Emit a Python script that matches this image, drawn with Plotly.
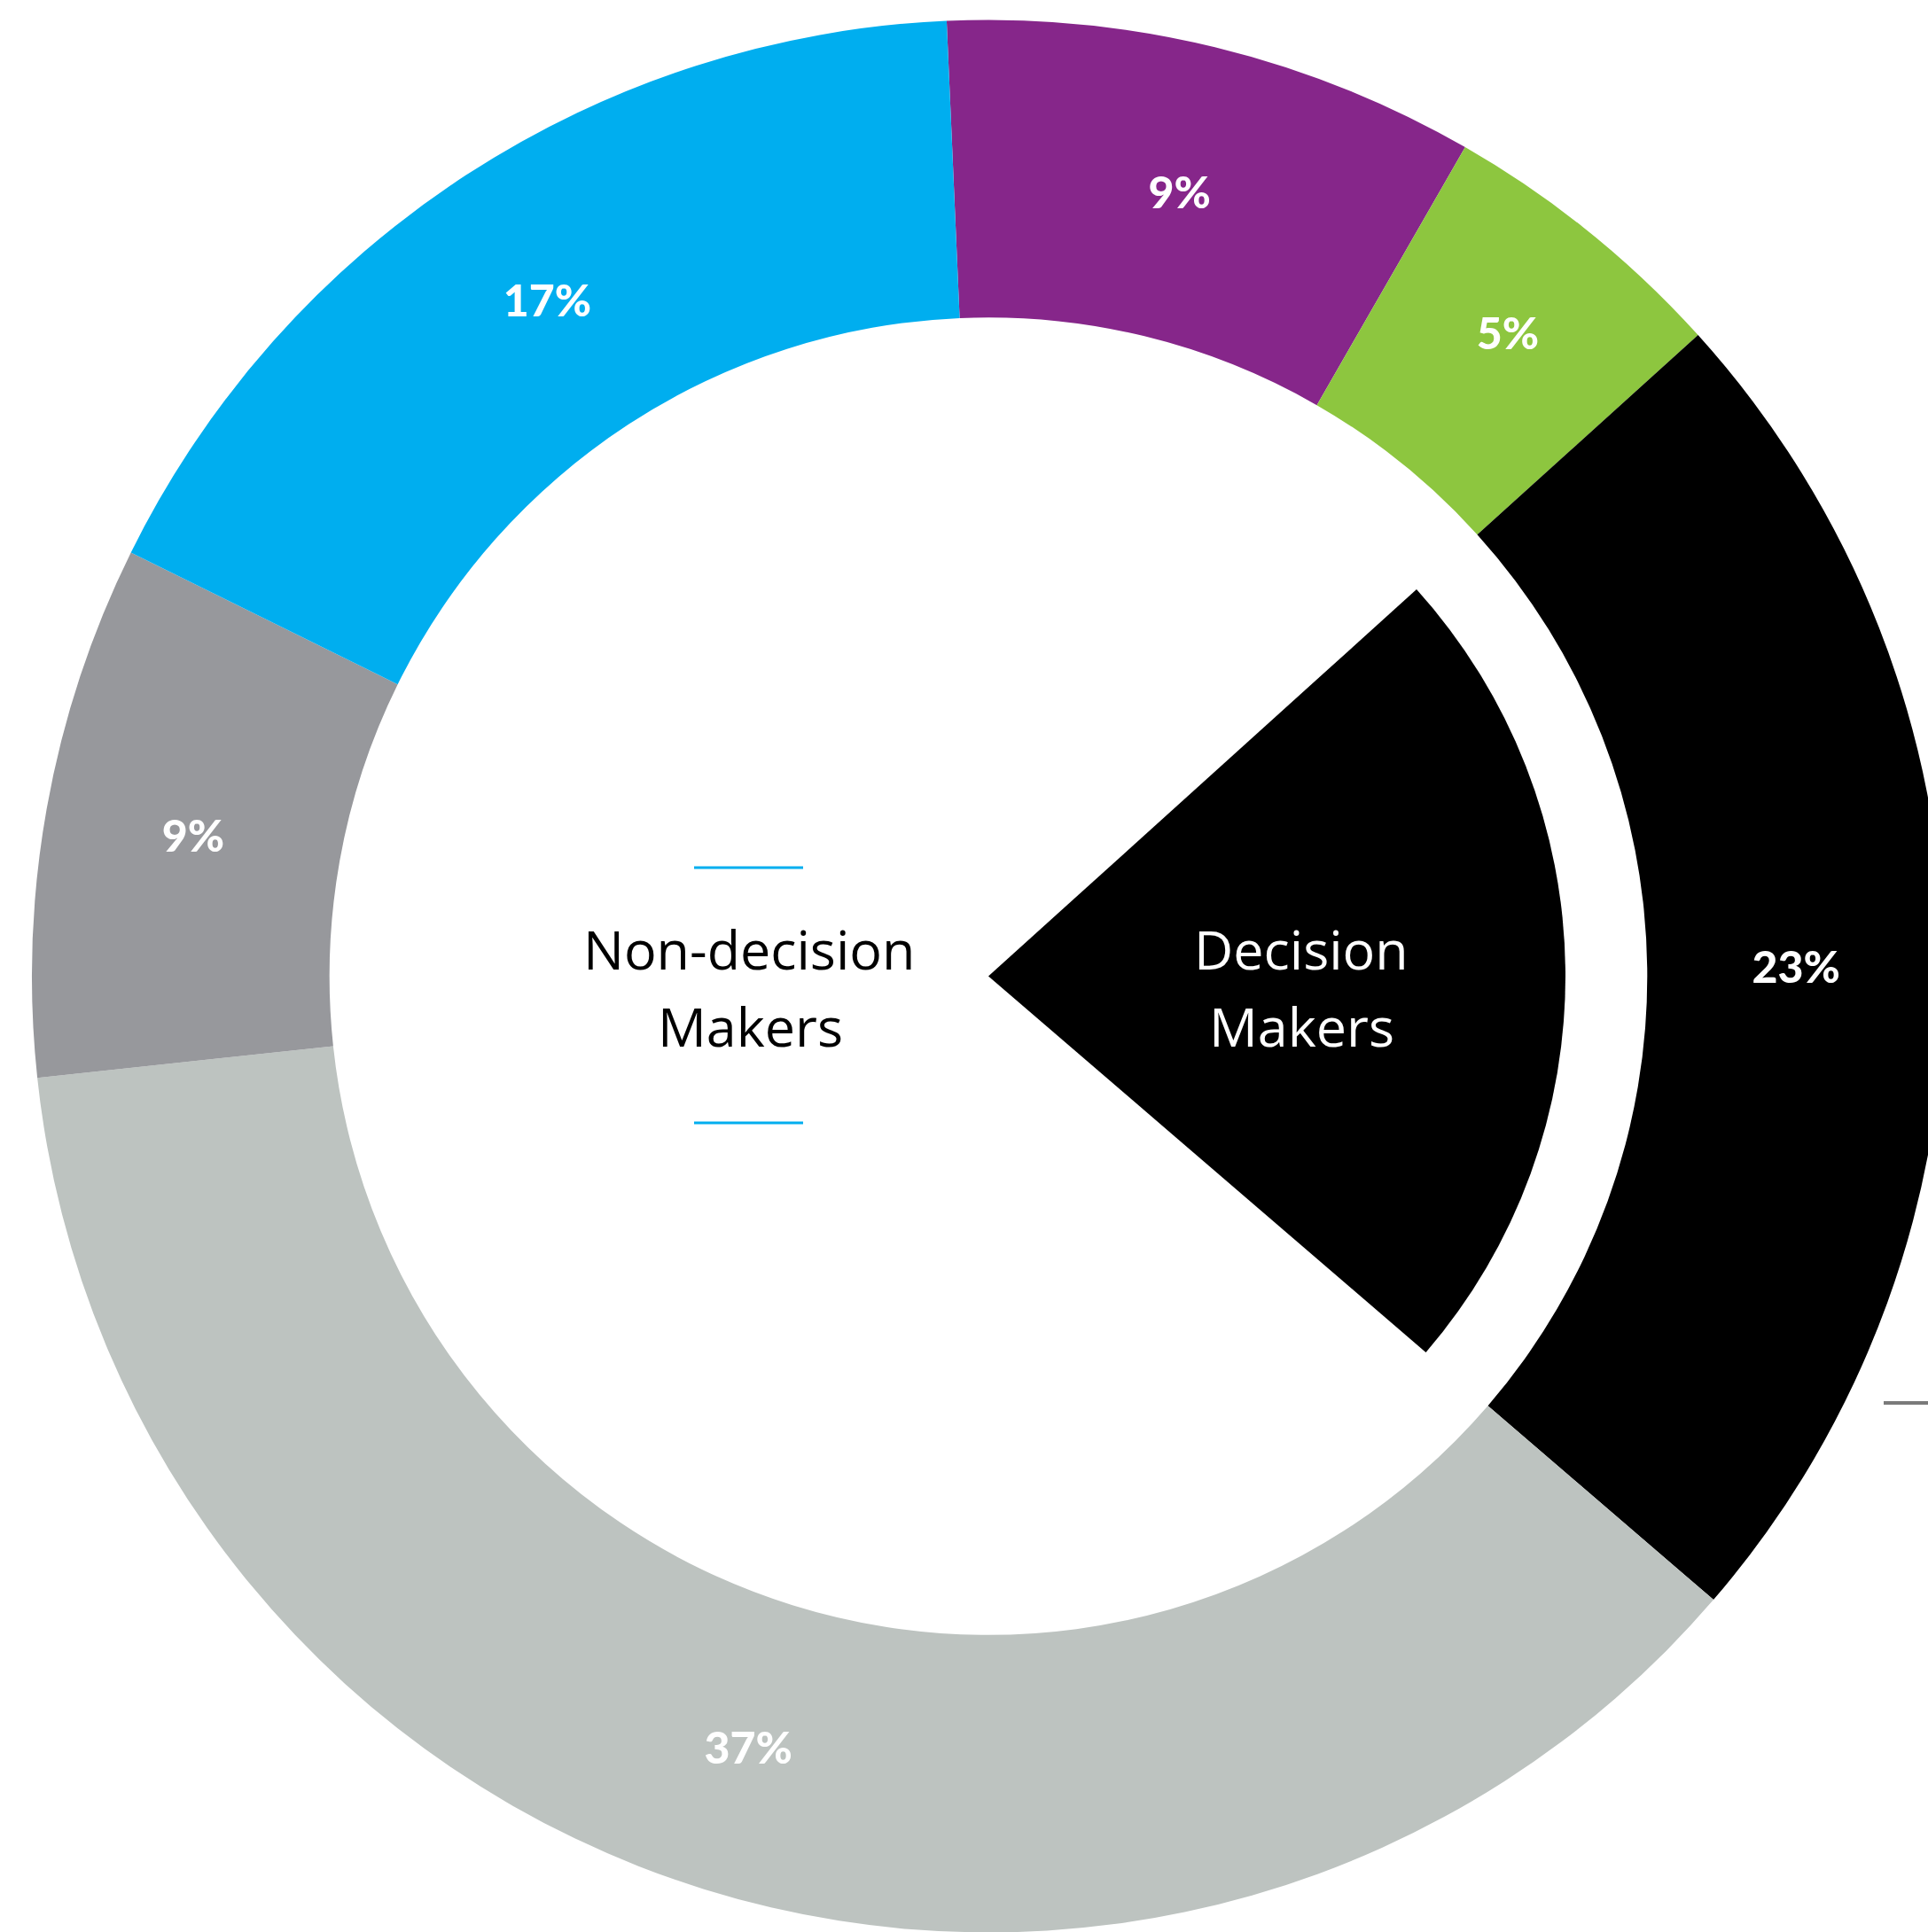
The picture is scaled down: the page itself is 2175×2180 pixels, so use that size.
import plotly.graph_objects as go

# Share of respondents by segment (clockwise from 12 o'clock)
segments = ["Purple", "Green", "Decision Makers", "Light gray", "Gray", "Blue"]
shares = [9, 5, 23, 37, 9, 17]
colors = ["#86268A", "#8DC63F", "#000000", "#BDC3C0", "#97989C", "#00AEEF"]
labels = [f"{v}%" for v in shares]

# Inner wedge highlights the decision-maker segment only
inner_colors = ["rgba(0,0,0,0)" if s != "Decision Makers" else "#000000" for s in segments]

W, H = 2240, 2201
CX, CY = 1115, 1101.5      # ring centre in px
R_OUT, R_IN, R_WEDGE = 1079, 743.3, 651


def dom(cx, cy, r):
    return dict(x=[(cx - r) / W, (cx + r) / W],
                y=[1 - (cy + r) / H, 1 - (cy - r) / H])


def px(x):
    return x / W


def py(y):
    return 1 - y / H


fig = go.Figure()

fig.add_trace(go.Pie(
    labels=segments, values=shares, text=labels,
    textinfo="text", textposition="inside", insidetextorientation="horizontal",
    textfont=dict(family="Lato", size=50, color="white", weight=900),
    marker=dict(colors=colors, line=dict(width=0)),
    hole=R_IN / R_OUT, sort=False, direction="clockwise", rotation=-2.5,
    domain=dom(CX, CY, R_OUT), showlegend=False, hoverinfo="skip",
))

fig.add_trace(go.Pie(
    labels=segments, values=shares,
    textinfo="none",
    marker=dict(colors=inner_colors, line=dict(width=0)),
    sort=False, direction="clockwise", rotation=-2.5,
    domain=dom(CX, CY, R_WEDGE), showlegend=False, hoverinfo="skip",
))

center_font = dict(family="Open Sans", size=61, weight=400)
annotations = [
    dict(text="Non-decision", x=px(845), y=py(1071), font=dict(center_font, color="black")),
    dict(text="Makers", x=px(846), y=py(1157), font=dict(center_font, color="black")),
    dict(text="Decision", x=px(1468), y=py(1071), font=dict(center_font, color="white")),
    dict(text="Makers", x=px(1468), y=py(1157), font=dict(center_font, color="white")),
]
for a in annotations:
    a.update(xref="paper", yref="paper", showarrow=False, xanchor="center", yanchor="middle")

shapes = [
    dict(type="line", xref="paper", yref="paper", x0=px(783), x1=px(906), y0=py(979), y1=py(979),
         line=dict(color="#00AEEF", width=3)),
    dict(type="line", xref="paper", yref="paper", x0=px(783), x1=px(906), y0=py(1267), y1=py(1267),
         line=dict(color="#00AEEF", width=3)),
    dict(type="line", xref="paper", yref="paper", x0=px(2125), x1=1, y0=py(1583), y1=py(1583),
         line=dict(color="#7A7A7A", width=4)),
]

fig.update_layout(
    width=W, height=H,
    margin=dict(l=0, r=0, t=0, b=0),
    paper_bgcolor="white", plot_bgcolor="white",
    annotations=annotations, shapes=shapes,
)

fig.write_html(
    "out.html",
    post_script="document.documentElement.style.overflow='hidden';document.body.style.overflow='hidden';document.body.style.margin='0';",
)
